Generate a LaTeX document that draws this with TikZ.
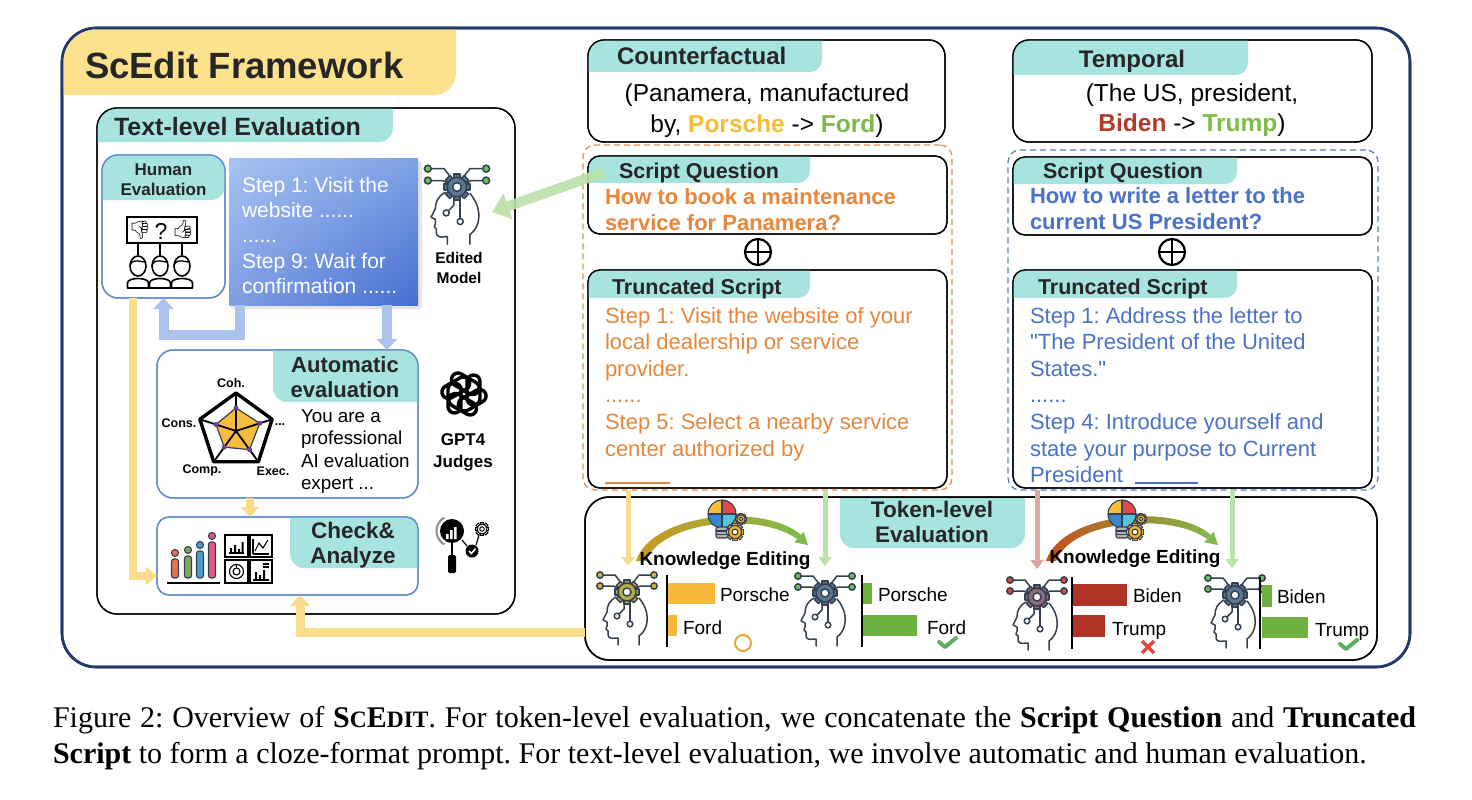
\documentclass[tikz,border=0pt]{standalone}
\usepackage{fontspec}
\setmainfont{Liberation Sans}
\newfontfamily\qfont{Liberation Sans}[Ligatures=TeXOff]
\newfontfamily\capfont{Liberation Serif}
\newfontfamily\emojifont{Noto Emoji}
\usetikzlibrary{arrows.meta,calc,shadings}
\frenchspacing
\definecolor{navy}{HTML}{213A6B}
\definecolor{titley}{HTML}{FDE28E}
\definecolor{tabteal}{HTML}{A7E4DF}
\definecolor{tabtxt}{HTML}{262626}
\definecolor{humblue}{HTML}{5E8AD0}
\definecolor{orq}{HTML}{E8863C}
\definecolor{ordash}{HTML}{E9904A}
\definecolor{blq}{HTML}{4A72C6}
\definecolor{bldash}{HTML}{5D80C8}
\definecolor{porsche}{HTML}{F4BD3A}
\definecolor{ford}{HTML}{7DB84A}
\definecolor{biden}{HTML}{B23A2A}
\definecolor{trump}{HTML}{7FBD47}
\definecolor{arrb}{HTML}{AAC2EC}
\definecolor{arry}{HTML}{FBDC8C}
\definecolor{arrg}{HTML}{BCE1A9}
\definecolor{arrp}{HTML}{DCA6A3}
\definecolor{baryel}{HTML}{F6B93B}
\definecolor{bargrn}{HTML}{6DB241}
\definecolor{barred}{HTML}{AE3526}
\definecolor{headln}{HTML}{34404F}
\definecolor{gearbl}{HTML}{5A7896}
\definecolor{gearol}{HTML}{B3AD45}
\definecolor{gearmv}{HTML}{8E6B7C}
\definecolor{nodegr}{HTML}{67C25A}
\definecolor{nodeyl}{HTML}{D2B43C}
\definecolor{nodered}{HTML}{D8494B}
\definecolor{radary}{HTML}{F6BD3D}
\definecolor{radarp}{HTML}{6C3D9A}
\definecolor{chkgrn}{HTML}{5FAE63}
\definecolor{crossred}{HTML}{E5443F}
\definecolor{circy}{HTML}{E4A93C}
\definecolor{kgold}{HTML}{C79A23}
\definecolor{krust}{HTML}{C4501C}
\definecolor{kgreen}{HTML}{82B94A}
\definecolor{bulbred}{HTML}{E0484C}
\definecolor{bulbblue}{HTML}{3A86CF}
\definecolor{bulbcyan}{HTML}{52C5DA}
\definecolor{gearyel}{HTML}{F5B52E}
\definecolor{lolo}{HTML}{E8734A}
\definecolor{lolg}{HTML}{7FA65A}
\definecolor{lolb}{HTML}{4A9BD0}
\definecolor{lolp}{HTML}{E05A86}
\definecolor{stUL}{HTML}{A7C3F1}
\definecolor{stUR}{HTML}{7FA1E6}
\definecolor{stLL}{HTML}{7F9EE3}
\definecolor{stLR}{HTML}{456ECF}
\newcommand\fsz[2]{\fontsize{#1}{#2}\selectfont}
\newcommand\gearat[4]{%
  \begin{scope}[shift={(#1,#2)}]
    \foreach \a in {0,45,...,315}{\filldraw[fill=#4, rotate=\a] (-0.32*#3,-1.35*#3) rectangle (0.32*#3,-0.8*#3);}
    \filldraw[fill=#4] (0,0) circle (#3);
    \filldraw[fill=white] (0,0) circle (0.45*#3);
  \end{scope}}
\tikzset{
  lbl/.style={inner sep=0pt, outer sep=0pt},
  rbox/.style={draw, rectangle, anchor=north west, inner sep=0pt, outer sep=0pt, line width=1.3pt},
  pics/aihead/.style 2 args={code={
    \begin{scope}[draw=headln, line width=1.5pt, line cap=round, line join=round]
      \draw (-5,-8) -- (-12,-17) -- (-24,-17);
      \draw (-8,-3) -- (-13,-6) -- (-24,-6);
      \draw (5,-8) -- (12,-17) -- (24,-17);
      \draw (8,-3) -- (13,-6) -- (24,-6);
      \filldraw[fill=#2] (-27,-17) circle (3.2) (-27,-6) circle (3.2) (27,-17) circle (3.2) (27,-6) circle (3.2);
      \draw (-11,5) .. controls (-18,9) and (-20,14) .. (-20,20) -- (-24,28) -- (-20,30) -- (-20,34) -- (-21,37) -- (-19,39) -- (-19,43) .. controls (-19,46) and (-15,47) .. (-11,46) -- (-9,46) -- (-9,53);
      \draw (12,53) -- (12,44) .. controls (22,37) and (24,20) .. (12,6);
      \draw (-3,10) -- (-3,17) -- (-8,22);
      \draw (-10,24) circle (2.8);
      \draw (3,10) -- (3,29);
      \draw (3,32) circle (2.8);
      \gearat{0}{0}{9}{#1}
    \end{scope}
  }},
  pics/bulb/.style={code={
    \begin{scope}[draw=headln, line width=1.1pt, line join=round]
      \fill[porsche] (0,0) -- (-14,0) arc[start angle=180, end angle=270, radius=14] -- cycle;
      \fill[bulbred] (0,0) -- (0,-14) arc[start angle=270, end angle=360, radius=14] -- cycle;
      \fill[bulbcyan] (0,0) -- (14,0) arc[start angle=0, end angle=90, radius=14] -- cycle;
      \fill[bulbblue] (0,0) -- (0,14) arc[start angle=90, end angle=180, radius=14] -- cycle;
      \draw (0,0) circle (14);
      \draw (-14,0) -- (14,0) (0,-14) -- (0,14);
      \filldraw[fill=black!30, rounded corners=2pt] (-6,13) rectangle (6,24);
      \draw (-6,17) -- (6,17) (-6,20.5) -- (6,20.5);
      \gearat{13}{18}{6.5}{gearyel}
      \gearat{19}{5}{4.2}{gearyel}
    \end{scope}
  }}
}
\begin{document}
\begin{tikzpicture}[x=1pt,y=-1pt]
\useasboundingbox (0,0) rectangle (1472,800);
\fill[white] (0,0) rectangle (1472,800);

% ---------- outer frame ----------
\node[rbox, draw=navy, line width=2.6pt, rounded corners=34pt, minimum width=1348pt, minimum height=639pt] (frame) at (62,28) {};
\begin{scope}
  \clip[rounded corners=34pt] (frame.north west) rectangle (frame.south east);
  \fill[titley, rounded corners=22pt] (30,0) rectangle (456,95);
\end{scope}
\draw[navy, line width=2.6pt, rounded corners=34pt] (frame.north west) rectangle (frame.south east);
\node[lbl, anchor=base west, font=\bfseries\fsz{36.5}{40}, text=tabtxt] (title) at (85,78) {ScEdit Framework};

% ---------- text-level evaluation ----------
\node[rbox, rounded corners=20pt, minimum width=418pt, minimum height=506pt] (tl) at (97,108) {};
\begin{scope}
  \clip[rounded corners=20pt] (tl.north west) rectangle (tl.south east);
  \fill[tabteal, rounded corners=14pt] (80,90) rectangle (393,142);
\end{scope}
\draw[line width=1.3pt, rounded corners=20pt] (tl.north west) rectangle (tl.south east);
\node[lbl, anchor=base west, font=\bfseries\fsz{25}{28}, text=tabtxt] (tlt) at (114,135) {Text-level Evaluation};

% human evaluation
\node[rbox, draw=humblue, rounded corners=16pt, minimum width=123pt, minimum height=143pt] (hum) at (102,155) {};
\begin{scope}
  \clip[rounded corners=16pt] (hum.north west) rectangle (hum.south east);
  \fill[tabteal, rounded corners=14pt] (90,140) rectangle (225,200);
\end{scope}
\draw[humblue, line width=1.3pt, rounded corners=16pt] (hum.north west) rectangle (hum.south east);
\node[lbl, anchor=base, font=\bfseries\fsz{17}{20}, text=tabtxt] (hum1) at (163.5,175) {Human};
\node[lbl, anchor=base, font=\bfseries\fsz{17}{20}, text=tabtxt] (hum2) at (163.5,195) {Evaluation};
\draw[line width=1.8pt] (127,217) rectangle (197,243);
\node[lbl, font=\emojifont\fsz{18}{18}] (tdown) at (140,230.5) {👎};
\node[lbl, font=\fsz{23}{23}] (qm) at (161,231) {?};
\node[lbl, font=\emojifont\fsz{18}{18}] (tup) at (183,229.5) {👍};
\foreach \px in {138,160,182} {
  \draw[line width=1.5pt] (\px,243) -- (\px,255);
  \draw[line width=1.6pt] (\px,266) ellipse (8 and 10);
  \draw[line width=1.3pt] (\px-8,265) .. controls (\px-4,257) and (\px+4,263) .. (\px+8,262);
  \draw[line width=1.6pt, line join=round] (\px-10.5,288) -- (\px-10.5,283) .. controls (\px-10.5,277) and (\px+10.5,277) .. (\px+10.5,283) -- (\px+10.5,288) -- cycle;
}

% step box (gradient)
\fill[black!10, rounded corners=3pt] (231,161) rectangle (422,309);
\node[rbox, draw=none, minimum width=189pt, minimum height=147pt] (steps) at (229,158) {};
\shade[upper left=stUL, upper right=stUR, lower left=stLL, lower right=stLR]
  (steps.north west) rectangle (steps.south east);
\begin{scope}[every node/.style={lbl, anchor=base west, font=\fsz{21}{21}, text=white}]
  \node (s1) at (242,192) {Step 1: Visit the};
  \node (s2) at (242,217.5) {website ......};
  \node (s3) at (242,242) {......};
  \node (s4) at (242,268) {Step 9: Wait for};
  \node (s5) at (242,293) {confirmation ......};
\end{scope}

% edited model
\pic[scale=1.08] (em) at (457,187) {aihead={gearbl}{nodegr}};
\coordinate (emc) at (492,212);
\node[lbl, anchor=base, font=\bfseries\fsz{15.5}{18}] (em1) at (459,263) {Edited};
\node[lbl, anchor=base, font=\bfseries\fsz{15.5}{18}] (em2) at (459,283) {Model};

% automatic evaluation
\node[rbox, draw=humblue, rounded corners=16pt, minimum width=261pt, minimum height=148pt] (auto) at (157,350) {};
\begin{scope}
  \clip[rounded corners=16pt] (auto.north west) rectangle (auto.south east);
  \fill[tabteal, rounded corners=14pt] (273,330) rectangle (440,402);
\end{scope}
\draw[humblue, line width=1.3pt, rounded corners=16pt] (auto.north west) rectangle (auto.south east);
\node[lbl, anchor=base, font=\bfseries\fsz{22}{25}, text=tabtxt] (au1) at (345,372) {Automatic};
\node[lbl, anchor=base, font=\bfseries\fsz{22}{25}, text=tabtxt] (au2) at (345,397) {evaluation};
\begin{scope}[every node/.style={lbl, anchor=base west, font=\fsz{18.8}{20}}]
  \node (p1) at (301,422) {You are a};
  \node (p2) at (301,444.5) {professional};
  \node (p3) at (301,467) {AI evaluation};
  \node (p4) at (301,489) {expert ...};
\end{scope}
% radar
\begin{scope}[shift={(236,431)}]
  \filldraw[fill=radary, draw=headln, line width=1.2pt] (-90:23) -- (-18:25) -- (54:23) -- (126:20) -- (198:21) -- cycle;
  \foreach \a in {-90,-18,54,126,198} \draw[line width=1.8pt] (0,0) -- (\a:38);
  \draw[line width=3.4pt, line join=round] (-90:38) -- (-18:38) -- (54:38) -- (126:38) -- (198:38) -- cycle;
  \foreach \a/\r in {-90/23,-18/25,54/23,126/20,198/21} \fill[radarp] (\a:\r) circle (2.5);
\end{scope}
\begin{scope}[every node/.style={lbl, anchor=base, font=\bfseries\fsz{12.5}{13}}]
  \node (rcoh) at (231,387) {Coh.};
  \node (rcons) at (179,427) {Cons.};
  \node (rdots) at (280,425) {...};
  \node (rcomp) at (202,473) {Comp.};
  \node (rexec) at (273,475) {Exec.};
\end{scope}

% GPT4
\begin{scope}[shift={(464,394)}]
  \foreach \a in {0,60,...,300}
    \draw[line width=3.4pt, rotate=\a, rounded corners=6.5pt] (3,-19) rectangle (16,11);
\end{scope}
\node[lbl, anchor=base, font=\bfseries\fsz{17}{20}] (g1) at (463,445) {GPT4};
\node[lbl, anchor=base, font=\bfseries\fsz{17}{20}] (g2) at (463,467) {Judges};

% check & analyze
\node[rbox, draw=humblue, rounded corners=12pt, minimum width=261pt, minimum height=78pt] (chk) at (157,517) {};
\begin{scope}
  \clip[rounded corners=12pt] (chk.north west) rectangle (chk.south east);
  \fill[tabteal, rounded corners=14pt] (290,500) rectangle (440,568);
\end{scope}
\draw[humblue, line width=1.3pt, rounded corners=12pt] (chk.north west) rectangle (chk.south east);
\node[lbl, anchor=base, font=\bfseries\fsz{22.5}{25}, text=tabtxt] (ck1) at (353,538) {Check\&};
\node[lbl, anchor=base, font=\bfseries\fsz{22.5}{25}, text=tabtxt] (ck2) at (353,563) {Analyze};
% lollipops
\foreach \x/\t/\c in {175/553/lolo, 188/550/lolg, 200/545/lolb, 212/536/lolp} {
  \filldraw[fill=\c, draw=headln, line width=1.1pt, rounded corners=2.5pt] (\x-3.5,578) -- (\x-3.5,\t+6) -- (\x+3.5,\t+6) -- (\x+3.5,578) -- cycle;
  \filldraw[fill=\c, draw=headln, line width=1.1pt] (\x,\t) circle (3.5);
}
\draw[line width=1.5pt] (167,583) -- (220,583);
% dashboard
\begin{scope}[line width=1.1pt]
  \draw (225,535) rectangle (248,557);
  \draw (250,535) rectangle (272,557);
  \draw (225,560) rectangle (248,583);
  \draw (250,560) rectangle (272,583);
  \draw (229,553) -- (244,553);
  \fill (230,548) rectangle (232,553) (234,545) rectangle (236,553) (238,549) rectangle (240,553) (241.5,542) rectangle (243.5,553);
  \draw (253,554) -- (253,539) (253,554) -- (269,554);
  \draw (255,551) -- (259,543) -- (263,548) -- (268,540);
  \draw (236.5,571.5) circle (7) (236.5,571.5) circle (3.5);
  \draw (236.5,564.5) -- (236.5,568);
  \draw (253,580) -- (269,580);
  \fill (255,572) rectangle (257,580) (259,575) rectangle (261,580) (263,570) rectangle (265,580);
  \draw (263,564) -- (269,564) (263,567) -- (269,567);
\end{scope}
% magnifier icon
\draw[black!45, line width=2pt] (452,531) ++(120:15.5) arc[start angle=120, end angle=240, radius=15.5];
\fill (452,531) circle (12);
\fill[white] (446,534) rectangle (448.5,539) (450,530) rectangle (452.5,539) (454,527) rectangle (456.5,539);
\draw[line width=2.5pt] (452,543) -- (452,556);
\fill[rounded corners=1.5pt] (448,555) rectangle (456,573);
\begin{scope}[line width=1pt] \gearat{482}{529}{5}{white} \end{scope}
\draw[line width=1.2pt] (462,540) -- (467,546) (476,545) -- (479,535);
\fill (472,551) circle (6.5);
\draw[white, line width=1.5pt] (469,551) -- (471.5,553.5) -- (475.5,548.5);

% text-level arrows
\draw[arrb, line width=10pt, -{Triangle[width=20pt,length=11pt]}] ($(steps.south west)+(11,0)$) -- ++(0,30) -| (hum.south);
\draw[arrb, line width=10pt, -{Triangle[width=20pt,length=11pt]}] ($(steps.south east)+(-31,0)$) -- ($(auto.north west)+(230,0)$);
\draw[arry, line width=8pt, -{Triangle[width=18pt,length=11pt]}] ($(hum.south west)+(31,0)$) |- ($(chk.west)+(0,20)$);
\draw[arry, line width=8pt, -{Triangle[width=18pt,length=10pt]}] ($(auto.south west)+(93,0)$) -- ($(chk.north west)+(93,0)$);

% ---------- counterfactual column ----------
\node[rbox, rounded corners=16pt, minimum width=357pt, minimum height=102pt] (cf) at (588,40) {};
\begin{scope}
  \clip[rounded corners=16pt] (cf.north west) rectangle (cf.south east);
  \fill[tabteal, rounded corners=12pt] (570,20) rectangle (822,72);
\end{scope}
\draw[line width=1.3pt, rounded corners=16pt] (cf.north west) rectangle (cf.south east);
\node[lbl, anchor=base west, font=\bfseries\fsz{24}{26}, text=tabtxt] (cft) at (617,65) {Counterfactual};
\node[lbl, anchor=base, font=\fsz{24.5}{26}] (cf1) at (767,101) {(Panamera, manufactured};
\node[lbl, anchor=base, font=\fsz{24.5}{26}] (cf2) at (767,132) {by, \textbf{\color{porsche}Porsche} -> \textbf{\color{ford}Ford})};

\node[rbox, draw=ordash, dash pattern=on 6pt off 4pt, line width=1.3pt, rounded corners=12pt, minimum width=369pt, minimum height=345pt] (odash) at (583,145) {};

\node[rbox, rounded corners=12pt, minimum width=359pt, minimum height=78pt] (sq1) at (588,156) {};
\begin{scope}
  \clip[rounded corners=12pt] (sq1.north west) rectangle (sq1.south east);
  \fill[tabteal, rounded corners=12pt] (570,140) rectangle (810,183);
\end{scope}
\draw[line width=1.3pt, rounded corners=12pt] (sq1.north west) rectangle (sq1.south east);
\node[lbl, anchor=base west, font=\bfseries\fsz{21.5}{24}, text=tabtxt] (sq1t) at (619,178) {Script Question};
\node[lbl, anchor=base west, font=\bfseries\fsz{22}{24}, text=orq] (q1a) at (605,204) {How to book a maintenance};
\node[lbl, anchor=base west, font=\bfseries\fsz{22}{24}, text=orq] (q1b) at (605,230) {service for Panamera?};

\node[circle, draw, line width=2.2pt, minimum size=26pt, inner sep=0pt] (op1) at (758,252) {};
\draw[line width=2.2pt] (op1.west) -- (op1.east) (op1.north) -- (op1.south);

\node[rbox, rounded corners=12pt, minimum width=359pt, minimum height=218pt] (ts1) at (588,270) {};
\begin{scope}
  \clip[rounded corners=12pt] (ts1.north west) rectangle (ts1.south east);
  \fill[tabteal, rounded corners=12pt] (570,250) rectangle (810,298);
\end{scope}
\draw[line width=1.3pt, rounded corners=12pt] (ts1.north west) rectangle (ts1.south east);
\node[lbl, anchor=base west, font=\bfseries\fsz{21.5}{24}, text=tabtxt] (ts1t) at (612,294) {Truncated Script};
\begin{scope}[every node/.style={lbl, anchor=base west, font=\fsz{22}{22}, text=orq}]
  \node (o1) at (605,323) {Step 1: Visit the website of your};
  \node (o2) at (605,349.6) {local dealership or service};
  \node (o3) at (605,376.2) {provider.};
  \node (o4) at (605,402.8) {......};
  \node (o5) at (605,429.4) {Step 5: Select a nearby service};
  \node (o6) at (605,456) {center authorized by};
\end{scope}
\draw[orq, line width=1.2pt] (605,483) -- (670,483);

% ---------- temporal column ----------
\node[rbox, rounded corners=16pt, minimum width=359pt, minimum height=102pt] (tp) at (1013,40) {};
\begin{scope}
  \clip[rounded corners=16pt] (tp.north west) rectangle (tp.south east);
  \fill[tabteal, rounded corners=12pt] (995,20) rectangle (1248,75);
\end{scope}
\draw[line width=1.3pt, rounded corners=16pt] (tp.north west) rectangle (tp.south east);
\node[lbl, anchor=base, font=\bfseries\fsz{24}{26}, text=tabtxt] (tpt) at (1132,67) {Temporal};
\node[lbl, anchor=base, font=\fsz{24.5}{26}] (tp1) at (1192,101) {(The US, president,};
\node[lbl, anchor=base, font=\fsz{24.5}{26}] (tp2) at (1192,131) {\textbf{\color{biden}Biden} -> \textbf{\color{trump}Trump})};

\node[rbox, draw=bldash, dash pattern=on 6pt off 4pt, line width=1.3pt, rounded corners=12pt, minimum width=370pt, minimum height=340pt] (bdash) at (1008,150) {};

\node[rbox, rounded corners=12pt, minimum width=359pt, minimum height=78pt] (sq2) at (1013,157) {};
\begin{scope}
  \clip[rounded corners=12pt] (sq2.north west) rectangle (sq2.south east);
  \fill[tabteal, rounded corners=12pt] (995,140) rectangle (1237,184);
\end{scope}
\draw[line width=1.3pt, rounded corners=12pt] (sq2.north west) rectangle (sq2.south east);
\node[lbl, anchor=base west, font=\bfseries\fsz{21.5}{24}, text=tabtxt] (sq2t) at (1043,178) {Script Question};
\node[lbl, anchor=base west, font=\bfseries\fsz{22}{24}, text=blq] (q2a) at (1030,203) {How to write a letter to the};
\node[lbl, anchor=base west, font=\bfseries\fsz{22}{24}, text=blq] (q2b) at (1030,229) {current US President?};

\node[circle, draw, line width=2.2pt, minimum size=26pt, inner sep=0pt] (op2) at (1172,252) {};
\draw[line width=2.2pt] (op2.west) -- (op2.east) (op2.north) -- (op2.south);

\node[rbox, rounded corners=12pt, minimum width=359pt, minimum height=218pt] (ts2) at (1013,270) {};
\begin{scope}
  \clip[rounded corners=12pt] (ts2.north west) rectangle (ts2.south east);
  \fill[tabteal, rounded corners=12pt] (995,250) rectangle (1237,298);
\end{scope}
\draw[line width=1.3pt, rounded corners=12pt] (ts2.north west) rectangle (ts2.south east);
\node[lbl, anchor=base west, font=\bfseries\fsz{21.5}{24}, text=tabtxt] (ts2t) at (1038,294) {Truncated Script};
\begin{scope}[every node/.style={lbl, anchor=base west, font=\qfont\fsz{22}{22}, text=blq}]
  \node (b1) at (1030,323) {Step 1: Address the letter to};
  \node (b2) at (1030,349.6) {"The President of the United};
  \node (b3) at (1030,376.2) {States."};
  \node (b4) at (1030,402.8) {......};
  \node (b5) at (1030,429.4) {Step 4: Introduce yourself and};
  \node (b6) at (1030,456) {state your purpose to Current};
  \node (b7) at (1030,482.6) {President};
\end{scope}
\draw[blq, line width=1.2pt] (1135,483) -- (1198,483);

% ---------- token-level evaluation ----------
\node[rbox, line width=1.5pt, rounded corners=24pt, minimum width=792pt, minimum height=163pt] (tok) at (585,497) {};
\begin{scope}
  \clip[rounded corners=24pt] (tok.north west) rectangle (tok.south east);
  \fill[tabteal, rounded corners=14pt] (840,470) rectangle (1025,548);
\end{scope}
\draw[line width=1.5pt, rounded corners=24pt] (tok.north west) rectangle (tok.south east);
\node[lbl, anchor=base, font=\bfseries\fsz{22.5}{25}, text=tabtxt] (tk1) at (932,517) {Token-level};
\node[lbl, anchor=base, font=\bfseries\fsz{22.5}{25}, text=tabtxt] (tk2) at (932,542) {Evaluation};

% heads
\coordinate (h1) at (627,592);
\coordinate (h2) at (825,593);
\coordinate (h3) at (1037,597);
\coordinate (h4) at (1235,595);

% down arrows
\draw[arry, line width=5pt, -{Triangle[width=13pt,length=9pt]}] ($(odash.south west)+(45,0)$) -- ($(h1)+(1,-26)$);
\draw[arrg, line width=5pt, -{Triangle[width=13pt,length=9pt]}] ($(odash.south west)+(242,0)$) -- ($(h2)+(0,-27)$);
\draw[arrp, line width=5pt, -{Triangle[width=13pt,length=9pt]}] ($(bdash.south west)+(29,0)$) -- ($(h3)+(0,-28)$);
\draw[arrg, line width=5pt, -{Triangle[width=13pt,length=9pt]}] ($(bdash.south west)+(224,0)$) -- ($(h4)+(-3,-27)$);

\pic (hd1) at (h1) {aihead={gearol}{nodeyl}};
\pic (hd2) at (h2) {aihead={gearbl}{nodegr}};
\pic (hd3) at (h3) {aihead={gearmv}{nodered}};
\pic (hd4) at (h4) {aihead={gearbl}{nodegr}};

% knowledge editing curves
\shade[left color=kgold, right color=kgreen] (636,561) .. controls (652,512) and (765,503) .. (801,535) -- (797,539) .. controls (760,512) and (662,520) .. (646,561) -- cycle;
\fill[kgreen] (794.4,542.3) -- (808,545) -- (803.6,531.7) -- cycle;
\shade[left color=krust, right color=kgreen] (1046,561) .. controls (1062,512) and (1175,503) .. (1211,535) -- (1207,539) .. controls (1170,512) and (1072,520) .. (1056,561) -- cycle;
\fill[kgreen] (1204.4,542.3) -- (1218,545) -- (1213.6,531.7) -- cycle;
\pic (bl1) at (722,514) {bulb};
\pic (bl2) at (1122,514) {bulb};
\node[lbl, anchor=base, font=\bfseries\fsz{19}{20}] (ke1) at (725,565) {Knowledge Editing};
\node[lbl, anchor=base, font=\bfseries\fsz{19}{20}] (ke2) at (1135,563) {Knowledge Editing};

% bar charts
\begin{scope}[every node/.style={lbl, anchor=base west, font=\fsz{19}{19}}]
  \draw[line width=2.4pt] (667,575) -- (667,647);
  \fill[baryel] (668,583) rectangle (715,604);
  \fill[baryel] (668,615) rectangle (677,636);
  \node (c1a) at (720,601) {Porsche};
  \node (c1b) at (683,634) {Ford};
  \draw[circy, line width=2pt] (743,643) circle (8);

  \draw[line width=2.4pt] (862,575) -- (862,647);
  \fill[bargrn] (863,583) rectangle (872,604);
  \fill[bargrn] (863,615) rectangle (917,636);
  \node (c2a) at (878,601) {Porsche};
  \node (c2b) at (927,634) {Ford};
  \draw[chkgrn, line width=4pt, line cap=round, line join=round] (939,642) -- (945,647) -- (956,638);

  \draw[line width=2.4pt] (1072,577) -- (1072,649);
  \fill[barred] (1073,584) rectangle (1127,606);
  \fill[barred] (1073,615) rectangle (1105,637);
  \node (c3a) at (1133,602) {Biden};
  \node (c3b) at (1112,635) {Trump};
  \draw[crossred, line width=3.5pt] (1142,641) -- (1154,653) (1154,641) -- (1142,653);

  \draw[line width=2.4pt] (1260,577) -- (1260,649);
  \fill[bargrn] (1262,585) rectangle (1272,607);
  \fill[bargrn] (1262,617) rectangle (1308,638);
  \node (c4a) at (1277,603) {Biden};
  \node (c4b) at (1315,636) {Trump};
  \draw[chkgrn, line width=4pt, line cap=round, line join=round] (1340,644) -- (1346,649) -- (1357,640);
\end{scope}

% arrows between panels
\draw[arry, line width=9pt, -{Triangle[width=20pt,length=11pt]}] ($(tok.south west)+(0,-28)$) -| ($(chk.south west)+(143,0)$);
\draw[arrg, opacity=0.9, line width=10pt, -{Triangle[width=26pt,length=17pt]}] ($(sq1.north west)+(17,16)$) -- (emc);

% ---------- caption ----------
\node[lbl, anchor=base west, font=\capfont\fsz{30}{36}] (cap1) at (53,727) {\hbox to 1363pt{Figure 2: Overview of \textbf{S{\fsz{23.5}{24}C}E{\fsz{23.5}{24}DIT}}. For token-level evaluation, we concatenate the \textbf{Script Question} and \textbf{Truncated}}};
\node[lbl, anchor=base west, font=\capfont\fsz{30}{36}] (cap2) at (53,763) {\textbf{Script} to form a cloze-format prompt. For text-level evaluation, we involve automatic and human evaluation.};
\end{tikzpicture}
\end{document}
